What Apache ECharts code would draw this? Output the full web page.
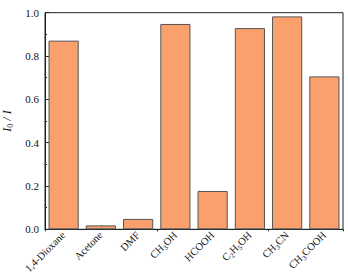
<!DOCTYPE html>
<html><head><meta charset="utf-8">
<script src="https://cdn.jsdelivr.net/npm/echarts@6/dist/echarts.min.js"></script>
<style>html,body{margin:0;padding:0;background:#fff}#c{width:348px;height:280px}</style>
</head><body><div id="c"></div>
<script>
const categories = ['1,4-Dioxane','Acetone','DMF','CH{s|3}OH','HCOOH','C{s|2}H{s|5}OH','CH{s|3}CN','CH{s|3}COOH'];
const values = [0.871, 0.018, 0.048, 0.948, 0.177, 0.929, 0.983, 0.706];
const yTicks = [0, 0.2, 0.4, 0.6, 0.8, 1.0];

const font = 'Liberation Serif';
const chart = echarts.init(document.getElementById('c'), null, {renderer:'svg'});
chart.setOption({
  animation:false,
  grid:{left:45, right:5, top:12.7, bottom:50.7, show:true, borderColor:'#222', borderWidth:1,
        containLabel:false, outerBoundsMode:'none'},
  xAxis:[{
    type:'category', data:categories,
    axisLine:{show:true, lineStyle:{color:'#222'}},
    axisTick:{show:true, inside:true, alignWithLabel:true, length:4, lineStyle:{color:'#222'}},
    axisLabel:{show:true, rotate:45, interval:0, hideOverlap:false, fontFamily:font, fontSize:10.5, color:'#111', margin:4,
      rich:{s:{fontFamily:font, fontSize:7, color:'#111', padding:[7,0,0,0]}}}
  },{
    type:'category', data:categories, position:'bottom',
    axisLine:{show:false},
    axisTick:{show:true, inside:false, length:2, lineStyle:{color:'#222'}},
    axisLabel:{show:false}
  }],
  yAxis:{
    type:'value', min:0, max:1, interval:0.2,
    axisLine:{show:true, lineStyle:{color:'#222'}},
    axisTick:{show:true, inside:true, length:4, lineStyle:{color:'#222'}},
    minorTick:{show:true, splitNumber:2, length:2, lineStyle:{color:'#222'}},
    splitLine:{show:false},
    axisLabel:{fontFamily:font, fontSize:11, color:'#111', margin:6,
      formatter:v=>{const t=yTicks.find(x=>Math.abs(x-v)<1e-9); return t===undefined?'':t.toFixed(1);}},
    name:'{i|I}{sub|0}{i| / I}', nameLocation:'middle', nameGap:27, nameRotate:90,
    nameTextStyle:{fontFamily:font, fontSize:12, color:'#111',
      rich:{i:{fontFamily:font, fontStyle:'italic', fontSize:12, color:'#111'},
            sub:{fontFamily:font, fontSize:8, color:'#111', padding:[7,0,0,0]}}}
  },
  series:[{
    type:'bar', data:values, barCategoryGap:'19%',
    itemStyle:{color:'#F9A06C', borderColor:'#555', borderWidth:1}
  }]
});
</script></body></html>
